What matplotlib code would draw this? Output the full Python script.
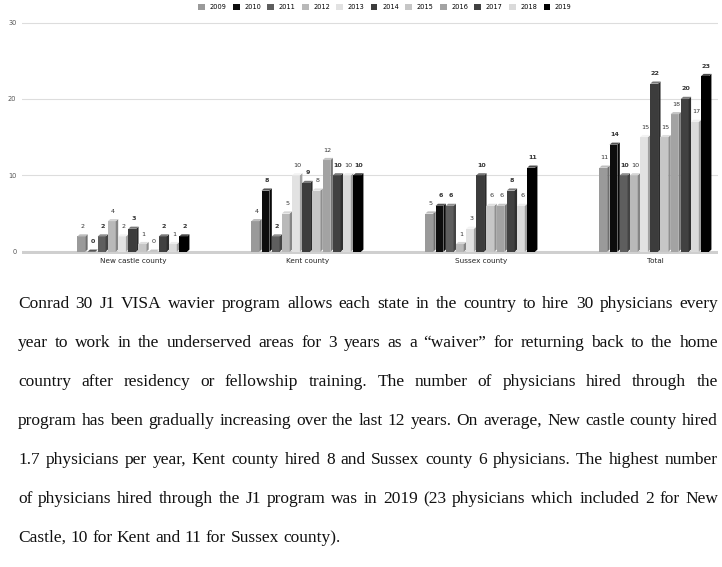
import matplotlib
matplotlib.use("Agg")
import matplotlib.pyplot as plt
from matplotlib.patches import Polygon
import matplotlib.colors as mcolors
import numpy as np

# ── data ──────────────────────────────────────────────────────────────────────
years = ["2009", "2010", "2011", "2012", "2013", "2014",
         "2015", "2016", "2017", "2018", "2019"]
groups = ["New castle county", "Kent county", "Sussex county", "Total"]
new_castle = [2, 0, 2, 4, 2, 3, 1, 0, 2, 1, 2]
kent = [4, 8, 2, 5, 10, 9, 8, 12, 10, 10, 10]
sussex = [5, 6, 6, 1, 3, 10, 6, 6, 8, 6, 11]
total = [11, 14, 10, 10, 15, 22, 15, 18, 20, 17, 23]
year_colors = ["#9a9a9a", "#0d0d0d", "#5e5e5e", "#b9b9b9", "#e2e2e2", "#3c3c3c",
               "#c6c6c6", "#a3a3a3", "#414141", "#dadada", "#000000"]
yticks = [0, 10, 20, 30]

paragraph = [
    "Conrad 30 J1 VISA wavier program allows each state in the country to hire 30 physicians every",
    "year to work in the underserved areas for 3 years as a \u201cwaiver\u201d for returning back to the home",
    "country after residency or fellowship training. The number of physicians hired through the",
    "program has been gradually increasing over the last 12 years. On average, New castle county hired",
    "1.7 physicians per year, Kent county hired 8 and Sussex county 6 physicians. The highest number",
    "of physicians hired through the J1 program was in 2019 (23 physicians which included 2 for New",
    "Castle, 10 for Kent and 11 for Sussex county).",
]

W, H = 722, 567
fig = plt.figure(figsize=(W / 100, H / 100), dpi=100)

# ── chart ─────────────────────────────────────────────────────────────────────
ax = fig.add_axes([22 / W, 1 - 254 / H, (718 - 22) / W, (254 - 21) / H])
series = np.array([new_castle, kent, sussex, total])
slot = 0.0585
front = 0.045
dx, dy = 0.014, 0.28
xc = np.arange(len(groups))

for i, yr in enumerate(years):
    xs = xc + (i - 5) * slot - (slot - front) / 2
    vals = series[:, i]
    bars = ax.bar(xs, vals, width=front, color=year_colors[i], label=yr,
                  edgecolor="none", zorder=3)
    rgb = np.array(mcolors.to_rgb(year_colors[i]))
    side_c = rgb * 0.72
    top_c = np.minimum(rgb + (1 - rgb) * 0.25 + 0.04, 1)
    dark = rgb.mean() < 0.4
    for b, v in zip(bars, vals):
        x0, x1, h = b.get_x(), b.get_x() + b.get_width(), b.get_height()
        ax.add_patch(Polygon([(x1, 0), (x1 + dx, dy), (x1 + dx, h + dy), (x1, h)],
                             closed=True, color=side_c, lw=0, zorder=3))
        ax.add_patch(Polygon([(x0, h), (x0 + dx, h + dy), (x1 + dx, h + dy), (x1, h)],
                             closed=True, color=top_c, lw=0, zorder=3))
        ax.text((x0 + x1) / 2 + dx / 2, h + dy + 0.7, f"{int(v)}",
                ha="center", va="bottom", fontsize=4.6, color="#333333",
                fontweight="bold" if dark else "normal", zorder=4)

ax.set_xlim(-0.64, 3.36)
ax.set_ylim(-0.3, 30.2)
ax.set_yticks(yticks)
ax.set_yticklabels([str(t) for t in yticks], fontsize=4.8, color="#555555")
ax.set_xticks(xc)
ax.set_xticklabels(groups, fontsize=5.2, color="#222222")
ax.tick_params(axis="x", length=0, pad=3)
ax.tick_params(axis="y", length=0, pad=4)
ax.grid(axis="y", color="#dddddd", lw=0.8, zorder=0)
ax.axhline(0, color="#cfcfcf", lw=2.2, zorder=2)
for s in ax.spines.values():
    s.set_visible(False)

fig.legend(*ax.get_legend_handles_labels(), loc="center", ncol=11,
           bbox_to_anchor=(385 / W, 1 - 7 / H), frameon=False, fontsize=4.8,
           handlelength=1.0, handleheight=1.0, handletextpad=0.7,
           columnspacing=0.95, borderaxespad=0)

# ── justified paragraph ───────────────────────────────────────────────────────
renderer = fig.canvas.get_renderer()
left, right = 18, 718
base0, step = 308, 39
font = dict(family="Liberation Serif", fontsize=12.5, color="#111111")


def text_width(s):
    t = fig.text(0, 0, s, **font)
    w = t.get_window_extent(renderer).width
    t.remove()
    return w


space_nat = text_width("a a") - text_width("aa")
for li, line in enumerate(paragraph):
    y = 1 - (base0 + li * step) / H
    words = line.split(" ")
    texts, widths = [], []
    for w in words:
        t = fig.text(0, y, w, ha="left", va="baseline", **font)
        texts.append(t)
        widths.append(t.get_window_extent(renderer).width)
    if li == len(paragraph) - 1:
        space = space_nat
    else:
        space = (right - left - sum(widths)) / (len(words) - 1)
    x = left
    for t, wd in zip(texts, widths):
        t.set_x(x / W)
        x += wd + space

fig.savefig("out.png", dpi=100)
